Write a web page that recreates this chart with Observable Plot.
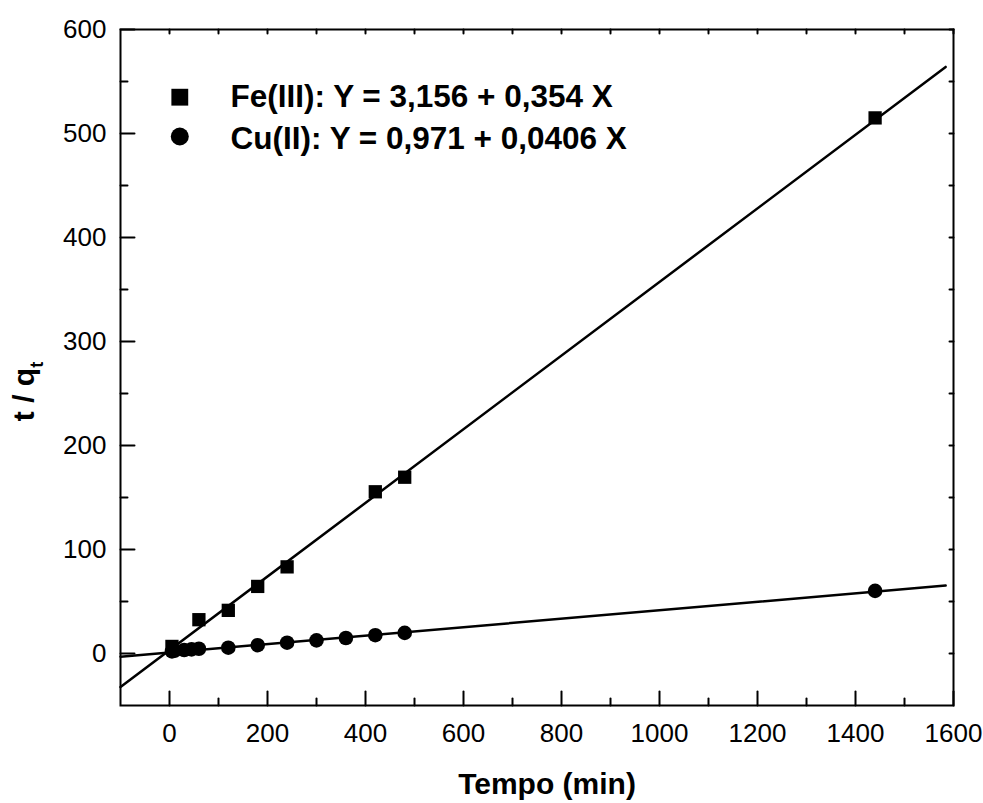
<!DOCTYPE html>
<html><head><meta charset="utf-8">
<script src="https://cdn.jsdelivr.net/npm/d3@7"></script>
<script src="https://cdn.jsdelivr.net/npm/@observablehq/plot@0.6"></script>
<style>html,body{margin:0;padding:0;background:#fff;}</style>
</head><body><div id="chart"></div>
<script>
const feTime = [5, 60, 120, 180, 240, 420, 480, 1440];
const feTq = [6.8, 32.5, 41.5, 64.5, 83.3, 155.5, 169.5, 515];
const cuTime = [5, 10, 30, 45, 60, 120, 180, 240, 300, 360, 420, 480, 1440];
const cuTq = [2.0, 2.6, 3.4, 4.0, 4.6, 5.6, 8.0, 10.4, 12.6, 14.9, 17.6, 19.8, 60.2];
const fitX = [-100, 1584];
const feFitY = [-32.2, 564];
const cuFitY = [-3.1, 65.3];
const xTicks = [0, 200, 400, 600, 800, 1000, 1200, 1400, 1600];
const xMinor = [100, 300, 500, 700, 900, 1100, 1300, 1500];
const yTicks = [0, 100, 200, 300, 400, 500, 600];
const yMinor = [50, 150, 250, 350, 450, 550];
const legendLabels = ["Fe(III): Y = 3,156 + 0,354 X", "Cu(II): Y = 0,971 + 0,0406 X"];
const xTitle = "Tempo (min)";
const yTitle = "t / q";
const ySub = "t";

const fe = feTime.map((t, i) => ({t, v: feTq[i]}));
const cu = cuTime.map((t, i) => ({t, v: cuTq[i]}));
const feFit = fitX.map((x, i) => ({x, y: feFitY[i]}));
const cuFit = fitX.map((x, i) => ({x, y: cuFitY[i]}));

// draws toward -y before rotation (same convention as Plot's arrow)
const tickShape = {draw(ctx, l) { ctx.moveTo(0, 0); ctx.lineTo(0, -l); }};
const font = "'Liberation Sans', Arial, Helvetica, sans-serif";

const chart = Plot.plot({
  width: 983,
  height: 803,
  marginLeft: 120,
  marginRight: 30,
  marginTop: 29,
  marginBottom: 98,
  style: {fontFamily: font, color: "black", background: "white", overflow: "visible"},
  x: {domain: [-100, 1600]},
  y: {domain: [-50, 600]},
  marks: [
    Plot.axisX({ticks: xTicks, tickSize: 0, tickPadding: 18, fontSize: 26, label: null, tickFormat: d => String(d)}),
    Plot.axisY({ticks: yTicks, tickSize: 0, tickPadding: 14, fontSize: 26, label: null, tickFormat: d => String(d)}),
    Plot.vector(xTicks, {x: d => d, frameAnchor: "bottom", length: 14, rotate: 0, anchor: "start", shape: tickShape, stroke: "black", strokeWidth: 2}),
    Plot.vector(xMinor, {x: d => d, frameAnchor: "bottom", length: 7, rotate: 0, anchor: "start", shape: tickShape, stroke: "black", strokeWidth: 2}),
    Plot.vector(yTicks, {y: d => d, frameAnchor: "left", length: 14, rotate: 90, anchor: "start", shape: tickShape, stroke: "black", strokeWidth: 2}),
    Plot.vector(yMinor, {y: d => d, frameAnchor: "left", length: 7, rotate: 90, anchor: "start", shape: tickShape, stroke: "black", strokeWidth: 2}),
    Plot.vector(xTicks.concat(xMinor), {x: d => d, frameAnchor: "top", length: 4, rotate: 180, anchor: "start", shape: tickShape, stroke: "black", strokeWidth: 2}),
    Plot.vector(yTicks.concat(yMinor), {y: d => d, frameAnchor: "right", length: 4, rotate: -90, anchor: "start", shape: tickShape, stroke: "black", strokeWidth: 2}),
    Plot.frame({stroke: "black", strokeWidth: 2}),
    Plot.line(feFit, {x: "x", y: "y", stroke: "black", strokeWidth: 2.5}),
    Plot.line(cuFit, {x: "x", y: "y", stroke: "black", strokeWidth: 2.5}),
    Plot.dot(cu, {x: "t", y: "v", symbol: "circle", r: 7.3, fill: "black"}),
    Plot.dot(fe, {x: "t", y: "v", symbol: "square", r: 7.5, fill: "black"}),
    Plot.dot([0], {frameAnchor: "top-left", dx: 59.3, dy: 67.7, symbol: "square", r: 9.5, fill: "black"}),
    Plot.dot([0], {frameAnchor: "top-left", dx: 59.3, dy: 107, symbol: "circle", r: 9, fill: "black"}),
    Plot.text([legendLabels[0]], {text: d => d, frameAnchor: "top-left", dx: 110, dy: 77.7, textAnchor: "start", lineAnchor: "bottom", fontSize: 31.5, fontWeight: "bold", fill: "black"}),
    Plot.text([legendLabels[1]], {text: d => d, frameAnchor: "top-left", dx: 110, dy: 119, textAnchor: "start", lineAnchor: "bottom", fontSize: 31.5, fontWeight: "bold", fill: "black"}),
    Plot.text([xTitle], {text: d => d, frameAnchor: "bottom", dx: 10, dy: 88.3, textAnchor: "middle", lineAnchor: "bottom", fontSize: 30, fontWeight: "bold", fill: "black"}),
    Plot.text([yTitle], {text: d => d, frameAnchor: "left", dx: -87, dy: 24, rotate: -90, textAnchor: "middle", lineAnchor: "bottom", fontSize: 30, fontWeight: "bold", fill: "black"})
  ]
});

const yl = Array.from(chart.querySelectorAll("text")).find(e => e.textContent === yTitle);
if (yl) {
  const ts = document.createElementNS("http://www.w3.org/2000/svg", "tspan");
  ts.setAttribute("dy", "9");
  ts.setAttribute("font-size", "18");
  ts.textContent = ySub;
  yl.appendChild(ts);
}
document.getElementById("chart").appendChild(chart);
</script>
</body></html>
